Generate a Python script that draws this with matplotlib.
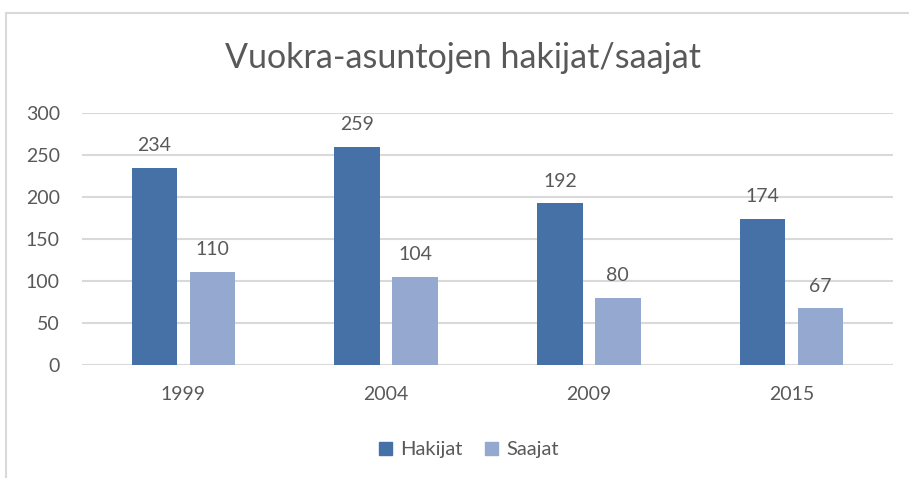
import matplotlib
matplotlib.use("Agg")
import matplotlib.pyplot as plt
import numpy as np
from matplotlib.lines import Line2D
from matplotlib.patches import Patch

years = ["1999", "2004", "2009", "2015"]
hakijat = [234, 259, 192, 174]
saajat = [110, 104, 80, 67]
yticks = [0, 50, 100, 150, 200, 250, 300]

plt.rcParams['font.family'] = ['Lato', 'DejaVu Sans']
TXT = '#595959'
DARK = '#4571A6'
LIGHT = '#95A9D0'
GRID = '#D9D9D9'

W, H = 909, 478
fig = plt.figure(figsize=(W/100, H/100), dpi=100)
ax = fig.add_axes([82/W, (H-364.7)/H, (893-82)/W, (364.7-112.7)/H])

x = np.arange(len(years))
bw = 0.224
off = 0.143
b1 = ax.bar(x - off, hakijat, bw, color=DARK, label='Hakijat', zorder=3)
b2 = ax.bar(x + off, saajat, bw, color=LIGHT, label='Saajat', zorder=3)
for bars in (b1, b2):
    for r in bars:
        ax.annotate(f"{int(r.get_height())}", (r.get_x() + r.get_width()/2, r.get_height()),
                    xytext=(0, 10), textcoords='offset points', ha='center', va='bottom',
                    fontsize=14, color=TXT)

ax.set_xlim(-0.5, len(years) - 0.5)
ax.set_ylim(0, 300)
ax.set_yticks(yticks)
ax.set_xticks(x)
ax.set_xticklabels(years)
ax.grid(axis='y', color=GRID, linewidth=1.5, zorder=0)
for s in ax.spines.values():
    s.set_visible(False)
ax.tick_params(axis='both', length=0, labelsize=14, labelcolor=TXT)
ax.tick_params(axis='y', pad=16)
ax.tick_params(axis='x', pad=15)

fig.text(463/W, (H-58)/H, "Vuokra-asuntojen hakijat/saajat", ha='center', va='center',
         fontsize=24.5, color=TXT)

leg = fig.legend(handles=[Patch(color=DARK, label='Hakijat'), Patch(color=LIGHT, label='Saajat')],
                 loc='center', bbox_to_anchor=(469/W, (H-450)/H), ncol=2, frameon=False,
                 fontsize=14.5, handlelength=0.65, handleheight=0.65, handletextpad=0.4,
                 columnspacing=1.1, labelcolor=TXT)

# chart frame
fig.add_artist(Line2D([6/W, 1], [(H-13)/H, (H-13)/H], color=GRID, linewidth=1.5))
fig.add_artist(Line2D([6/W, 6/W], [0, (H-13)/H], color=GRID, linewidth=1.5))

fig.savefig("out.png", dpi=100)
